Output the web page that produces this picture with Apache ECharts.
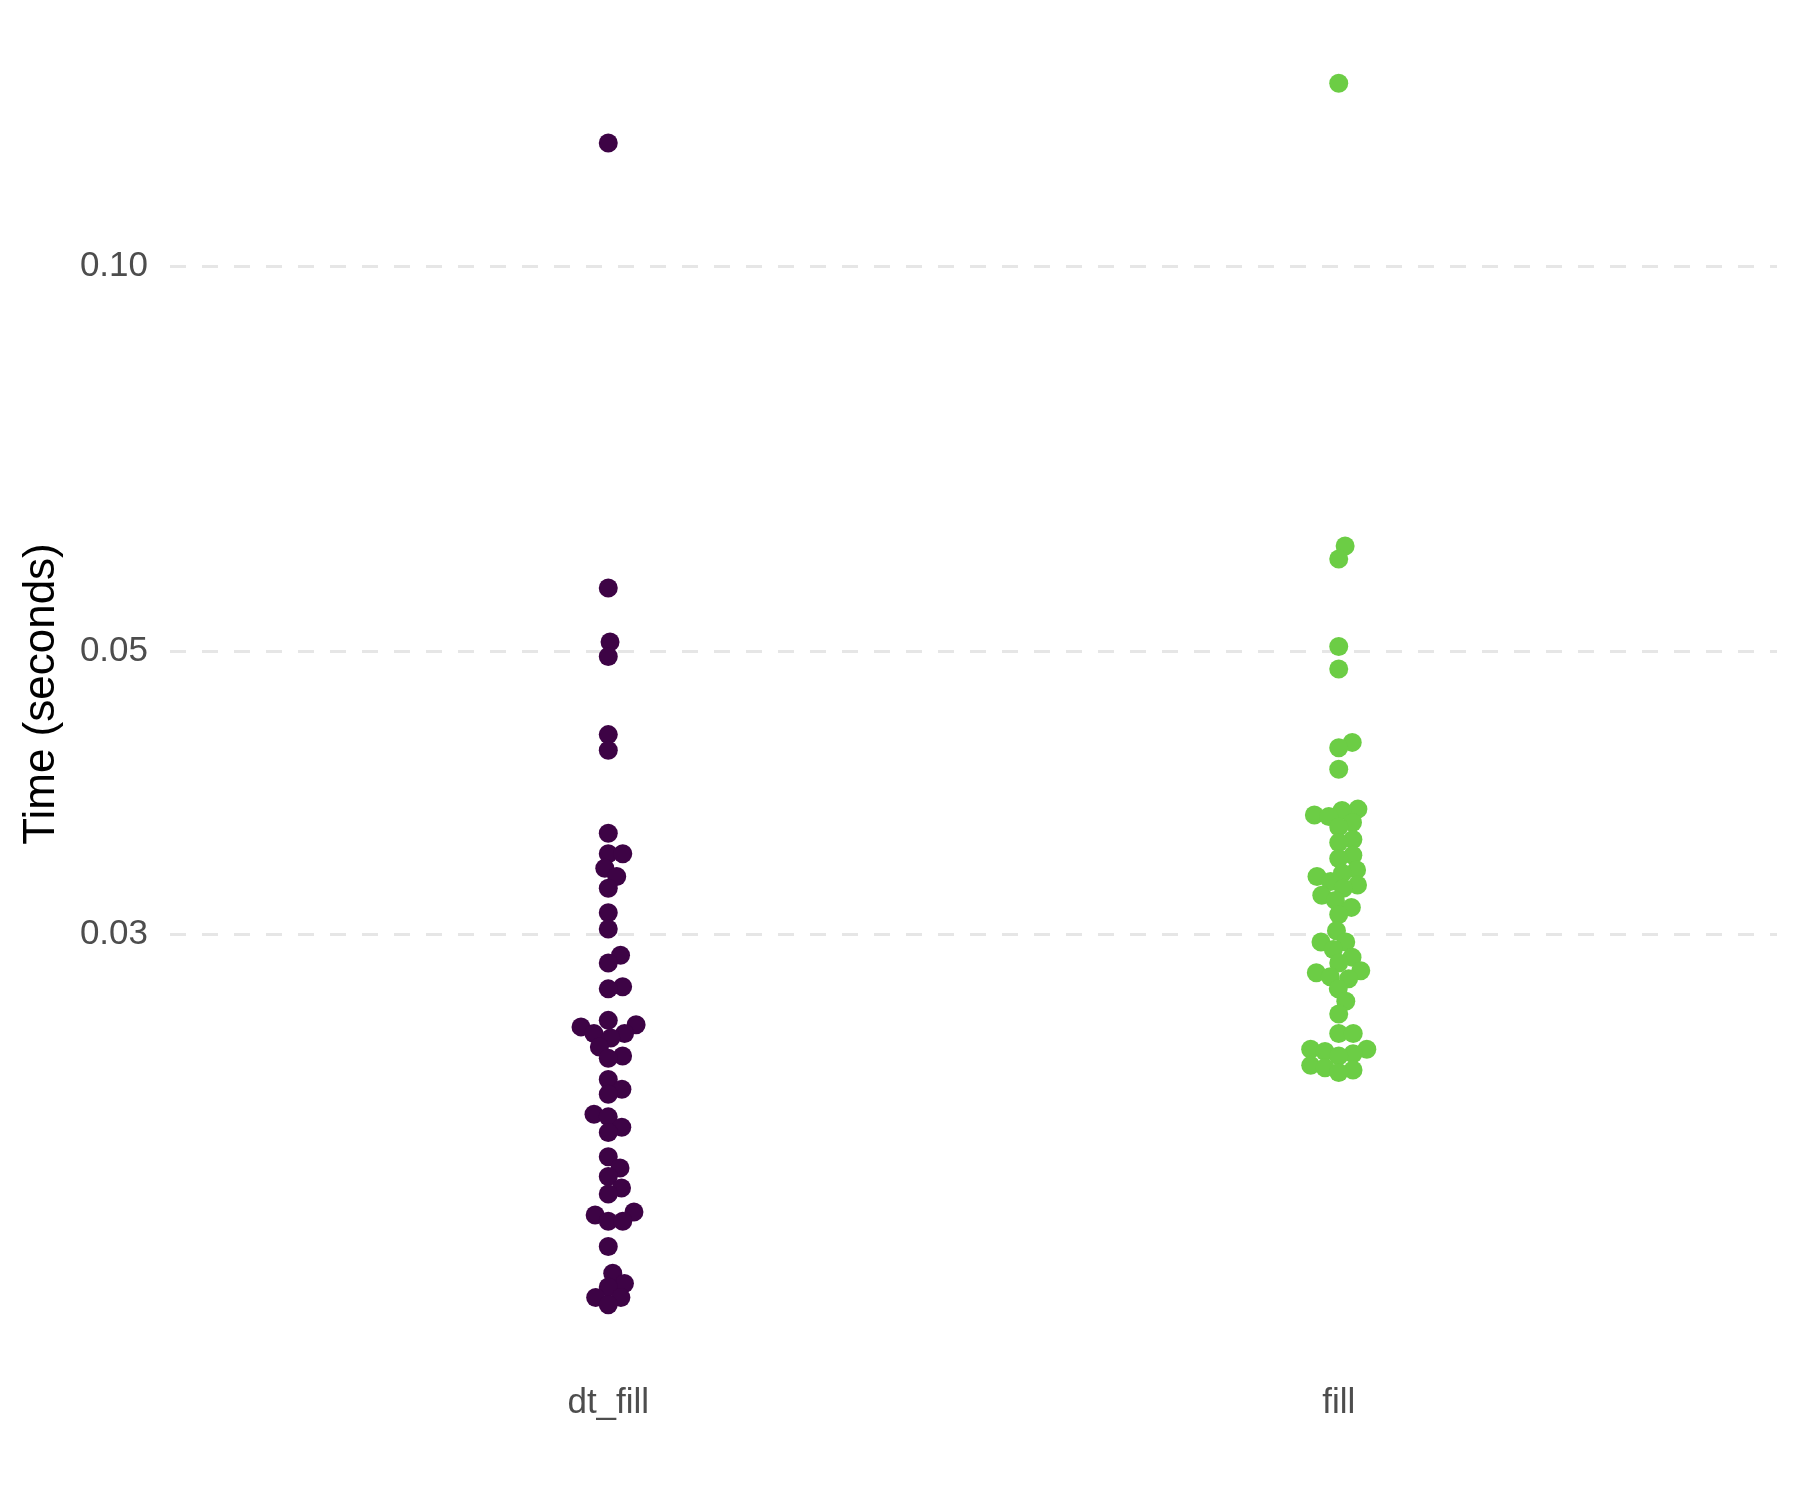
<!DOCTYPE html>
<html>
<head>
<meta charset="utf-8">
<script src="https://cdn.jsdelivr.net/npm/echarts@6/dist/echarts.min.js"></script>
<style>
  html, body { margin: 0; padding: 0; background: #ffffff; }
  #chart { width: 1800px; height: 1500px; }
</style>
</head>
<body>
<div id="chart"></div>
<script>
// categories on the x axis
const groups = ['dt_fill', 'fill'];

// run times (seconds)
const dtFillTimes = [
  0.1248, 0.0560, 0.0508, 0.0495, 0.0430, 0.0418, 0.0360, 0.0347, 0.0347, 0.0338,
  0.0333, 0.0326, 0.0312, 0.0303, 0.0289, 0.0285, 0.0273, 0.0272, 0.0257, 0.0255,
  0.0254, 0.0251, 0.0251, 0.0249, 0.0245, 0.0241, 0.0240, 0.0231, 0.0227, 0.0225,
  0.0217, 0.0216, 0.0212, 0.0210, 0.0201, 0.0197, 0.0194, 0.0190, 0.0188, 0.0182,
  0.0181, 0.0179, 0.0179, 0.0171, 0.0163, 0.0160, 0.0159, 0.0156, 0.0156, 0.0154,
];

const fillTimes = [
  0.1390, 0.0604, 0.0590, 0.0504, 0.0484, 0.0424, 0.0420, 0.0404, 0.0376, 0.0375,
  0.0372, 0.0371, 0.0367, 0.0364, 0.0356, 0.0354, 0.0346, 0.0344, 0.0337, 0.0335,
  0.0333, 0.0330, 0.0328, 0.0326, 0.0322, 0.0319, 0.0315, 0.0311, 0.0302, 0.0296,
  0.0296, 0.0292, 0.0288, 0.0285, 0.0281, 0.0280, 0.0278, 0.0277, 0.0272, 0.0266,
  0.0260, 0.0251, 0.0251, 0.0244, 0.0244, 0.0243, 0.0242, 0.0241, 0.0237, 0.0236,
  0.0235, 0.0234,
];

const yTicks = [0.03, 0.05, 0.10];
const groupColors = ['#3d0345', '#6ccd45'];

const pointRadius = 9.5;
const swarmGap = 14.5;

// simple swarm layout: place points from lowest value up, each as close to centre as possible
function swarmOffsets(ys) {
  const order = ys.map((y, i) => i).sort((a, b) => ys[b] - ys[a]);
  const placed = [];
  const xs = new Array(ys.length);
  order.forEach((i) => {
    const y = ys[i];
    const cands = [0];
    placed.forEach((p) => {
      const dy = Math.abs(p.y - y);
      if (dy < swarmGap) {
        const dx = Math.sqrt(swarmGap * swarmGap - dy * dy);
        cands.push(p.x + dx, p.x - dx);
      }
    });
    cands.sort((a, b) => Math.abs(a) - Math.abs(b));
    const x = cands.find((c) => placed.every(
      (p) => (p.x - c) * (p.x - c) + (p.y - y) * (p.y - y) >= swarmGap * swarmGap - 0.01,
    ));
    xs[i] = x;
    placed.push({ x, y });
  });
  return xs;
}

function makeSeries(times, gi) {
  return {
    name: groups[gi],
    type: 'custom',
    data: times.map((t) => [gi + 1, t]),
    renderItem(params, api) {
      if (!params.context.offsets) {
        const ys = times.map((t) => api.coord([gi + 1, t])[1]);
        params.context.offsets = swarmOffsets(ys);
      }
      const c = api.coord([api.value(0), api.value(1)]);
      return {
        type: 'circle',
        shape: { cx: c[0] + params.context.offsets[params.dataIndex], cy: c[1], r: pointRadius },
        style: { fill: groupColors[gi] },
      };
    },
  };
}

const chart = echarts.init(document.getElementById('chart'), null, { renderer: 'canvas' });

chart.setOption({
  backgroundColor: '#ffffff',
  animation: false,
  textStyle: { fontFamily: 'Liberation Sans, Arial, sans-serif' },
  grid: { left: 170, right: 23, top: 22, bottom: 134 },
  xAxis: {
    type: 'value',
    min: 0.4,
    max: 2.6,
    axisLine: { show: false },
    axisTick: { show: false, customValues: [1, 2] },
    splitLine: { show: false },
    axisLabel: {
      customValues: [1, 2],
      formatter: (v) => groups[Math.round(v) - 1],
      fontSize: 35,
      color: '#4d4d4d',
      margin: 20,
    },
  },
  yAxis: {
    type: 'log',
    min: 0.01379,
    max: 0.1552,
    name: 'Time (seconds)',
    nameLocation: 'middle',
    nameGap: 106,
    nameTextStyle: { fontSize: 44, color: '#000000' },
    axisLine: { show: false },
    axisTick: { show: false, customValues: yTicks },
    axisLabel: {
      customValues: yTicks,
      formatter: (v) => v.toFixed(2),
      fontSize: 35,
      color: '#4d4d4d',
      margin: 22,
    },
    splitLine: {
      show: true,
      lineStyle: { color: '#e6e6e6', width: 3, type: [16, 16] },
    },
  },
  series: [makeSeries(dtFillTimes, 0), makeSeries(fillTimes, 1)],
});
</script>
</body>
</html>
